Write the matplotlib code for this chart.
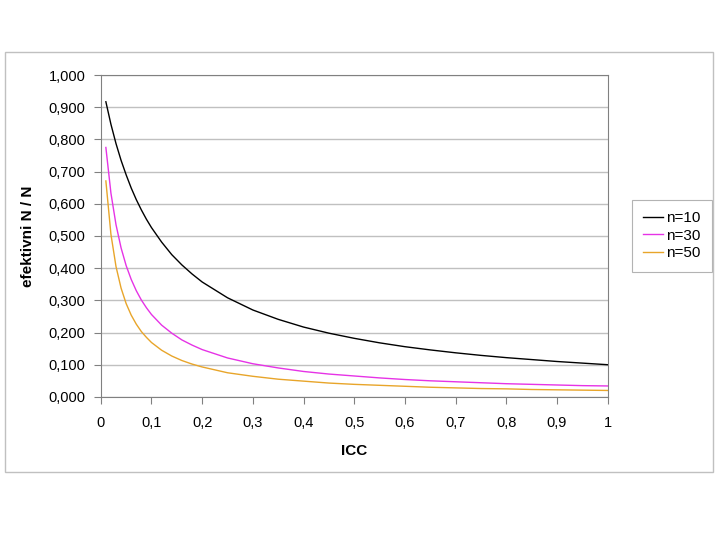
import matplotlib.pyplot as plt
from matplotlib.patches import Rectangle
from matplotlib.ticker import FuncFormatter

plt.rcParams['font.family'] = ['Liberation Sans', 'DejaVu Sans']

icc = [0.01, 0.02, 0.03, 0.04, 0.05, 0.06, 0.07, 0.08, 0.09, 0.10,
       0.12, 0.14, 0.16, 0.18, 0.20, 0.25, 0.30, 0.35, 0.40, 0.45,
       0.50, 0.55, 0.60, 0.65, 0.70, 0.75, 0.80, 0.85, 0.90, 0.95, 1.00]

n10 = [0.917, 0.847, 0.787, 0.735, 0.690, 0.649, 0.613, 0.581, 0.552, 0.526,
       0.481, 0.442, 0.410, 0.382, 0.357, 0.308, 0.270, 0.241, 0.217, 0.198,
       0.182, 0.168, 0.156, 0.146, 0.137, 0.129, 0.122, 0.116, 0.110, 0.105, 0.100]

n30 = [0.775, 0.633, 0.535, 0.463, 0.408, 0.365, 0.330, 0.301, 0.277, 0.256,
       0.223, 0.198, 0.177, 0.161, 0.147, 0.121, 0.103, 0.090, 0.079, 0.071,
       0.065, 0.059, 0.054, 0.050, 0.047, 0.044, 0.041, 0.039, 0.037, 0.035, 0.034]

n50 = [0.671, 0.505, 0.405, 0.338, 0.290, 0.254, 0.226, 0.203, 0.185, 0.169,
       0.145, 0.127, 0.113, 0.102, 0.093, 0.075, 0.064, 0.055, 0.049, 0.043,
       0.039, 0.036, 0.033, 0.030, 0.028, 0.026, 0.025, 0.023, 0.022, 0.021, 0.020]

fig = plt.figure(figsize=(7.2, 5.4), dpi=100)
fig.patches.append(Rectangle((0.007, 0.126), 0.983, 0.778, transform=fig.transFigure,
                             fill=False, edgecolor='#c0c0c0', linewidth=1.0))

ax = fig.add_axes([0.140, 0.265, 0.704, 0.596])
ax.plot(icc, n10, color='black', linewidth=1.0, label='n=10')
ax.plot(icc, n30, color='#e633e6', linewidth=1.0, label='n=30')
ax.plot(icc, n50, color='#e8a52a', linewidth=1.0, label='n=50')

ax.set_xlim(0, 1)
ax.set_ylim(0, 1)
ax.set_xticks([i / 10 for i in range(11)])
ax.set_yticks([i / 10 for i in range(11)])
ax.xaxis.set_major_formatter(FuncFormatter(
    lambda v, p: '0' if v == 0 else ('1' if v == 1 else ('%.1f' % v).replace('.', ','))))
ax.yaxis.set_major_formatter(FuncFormatter(lambda v, p: ('%.3f' % v).replace('.', ',')))

ax.grid(axis='y', color='#c0c0c0', linewidth=1.0)
ax.set_axisbelow(True)
for s in ax.spines.values():
    s.set_color('#808080')
ax.tick_params(direction='out', length=5, color='#808080', labelsize=10.5)
ax.tick_params(axis='x', pad=9)
ax.tick_params(axis='y', pad=6)

ax.set_xlabel('ICC', fontsize=11, fontweight='bold', labelpad=10)
ax.set_ylabel('efektivni N / N', fontsize=11, fontweight='bold', labelpad=10)

leg = ax.legend(loc='upper left', bbox_to_anchor=(632 / 720, 1 - 200 / 540),
                bbox_transform=fig.transFigure, frameon=True, fancybox=False,
                edgecolor='#a0a0a0', fontsize=11, handlelength=1.3,
                borderpad=0.75, labelspacing=0.22, handletextpad=0.2,
                borderaxespad=0)
leg.get_frame().set_linewidth(0.8)

plt.savefig('out.png', dpi=100)
